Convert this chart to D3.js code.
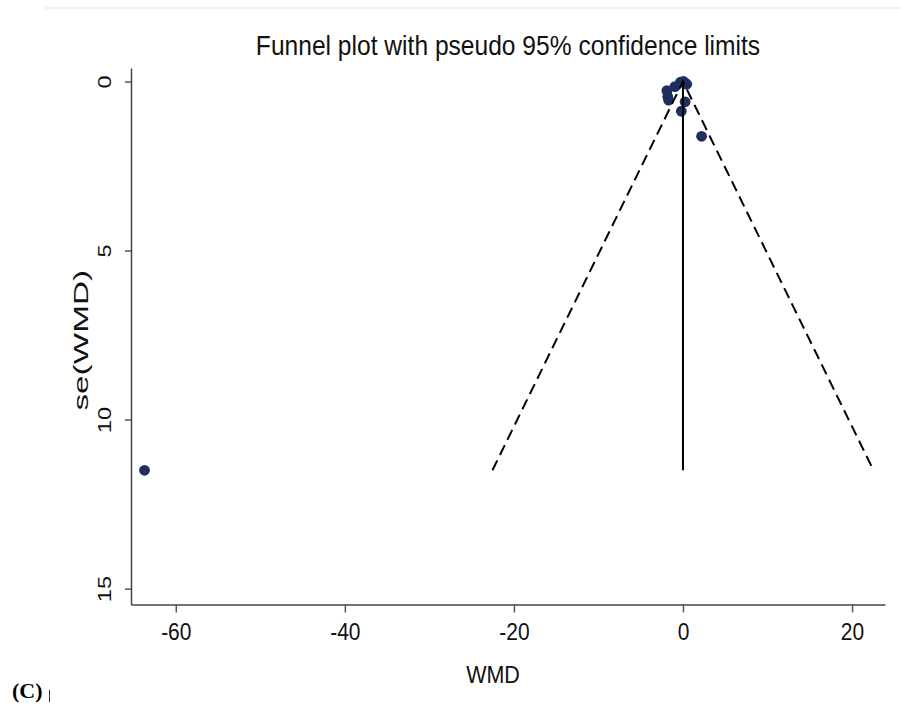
<!DOCTYPE html>
<html>
<head>
<meta charset="utf-8">
<script src="https://cdn.jsdelivr.net/npm/d3@7"></script>
<style>
  html, body { margin: 0; padding: 0; background: #fff; }
  svg { display: block; }
</style>
</head>
<body>
<svg id="chart" width="900" height="711"></svg>
<script>
// Study estimates
const wmd = [-63.7, 2.2, -0.2, 0.25, -0.3, 0.25, 0.45, -0.95, -1.9, -1.8, -1.7, 0.05];
const se  = [11.5, 1.62, 0.88, 0.60, 0.02, 0.04, 0.08, 0.15, 0.27, 0.45, 0.55, 0.0];
// Pooled estimate and funnel extent
const pooled = [0];
const seMax = [11.5];
const zCrit = [1.96];
const xTicks = [-60, -40, -20, 0, 20];
const yTicks = [0, 5, 10, 15];
const titleText = "Funnel plot with pseudo 95% confidence limits";
const xTitle = "WMD";
const yTitle = "se(WMD)";
const panelLabel = "(C)";

const svg = d3.select("#chart");
const font = "'Liberation Sans', Arial, sans-serif";
const fmt = d => String(d); // plain hyphen-minus

const x = d3.scaleLinear().domain([-65.3, 23.9]).range([131, 885]);
const y = d3.scaleLinear().domain([-0.4, 15.47]).range([68, 604.5]);
const x0 = x.range()[0], yB = y.range()[1];
const yMid = (y.range()[0] + y.range()[1]) / 2;

// faint top rule
svg.append("line").attr("x1", 45).attr("x2", 900).attr("y1", 8).attr("y2", 8)
  .attr("stroke", "#e4ebe9").attr("stroke-width", 1.5);

// title
svg.append("text").attr("transform", "translate(508,55) scale(1,1.1)").attr("text-anchor", "middle")
  .attr("font-family", font).attr("font-size", 24.6).attr("fill", "#111")
  .text(titleText);

// x axis
const xAxis = d3.axisBottom(x).tickValues(xTicks).tickFormat(fmt).tickSize(8).tickPadding(8).tickSizeOuter(0);
const gx = svg.append("g").attr("transform", `translate(0,${yB})`).call(xAxis);
gx.select(".domain").attr("stroke", "#444").attr("stroke-width", 1.5);
gx.selectAll(".tick line").attr("stroke", "#555").attr("stroke-width", 1.5);
gx.selectAll(".tick text").attr("font-family", font).attr("font-size", 21).attr("fill", "#111")
  .attr("y", null).attr("dy", null)
  .attr("transform", "translate(0,35) scale(1,1.13)");

// y axis
const yAxis = d3.axisLeft(y).tickValues(yTicks).tickFormat(fmt).tickSize(6).tickPadding(0).tickSizeOuter(0);
const gy = svg.append("g").attr("transform", `translate(${x0},0)`).call(yAxis);
gy.select(".domain").attr("stroke", "#444").attr("stroke-width", 1.5);
gy.selectAll(".tick line").attr("stroke", "#555").attr("stroke-width", 1.5);
gy.selectAll(".tick text")
  .attr("font-family", font).attr("font-size", 21).attr("fill", "#111")
  .attr("x", null).attr("dy", null)
  .attr("transform", "translate(-26,0) rotate(-90) scale(1.12,0.85)")
  .attr("text-anchor", "middle").attr("dominant-baseline", "central");

// axis titles
svg.append("text").attr("transform", "translate(493,683) scale(1,1.13)").attr("text-anchor", "middle")
  .attr("font-family", font).attr("font-size", 21.5).attr("fill", "#111").text(xTitle);
svg.append("text").attr("transform", `translate(88,${yMid + 4}) rotate(-90) scale(1.55,0.92)`)
  .attr("text-anchor", "middle").attr("font-family", font).attr("font-size", 21.5).attr("fill", "#111")
  .text(yTitle);

// points
svg.append("g").selectAll("circle").data(wmd.map((d, i) => [d, se[i]])).join("circle")
  .attr("cx", d => x(d[0])).attr("cy", d => y(d[1])).attr("r", 5.4)
  .attr("fill", "#1e2f5e");

// funnel limits
const th = pooled[0], sm = seMax[0], z = zCrit[0];
const line = d3.line().x(d => x(d[0])).y(d => y(d[1]));
svg.append("path").attr("d", line([[th - z * sm, sm], [th, 0], [th + z * sm, sm]]))
  .attr("fill", "none").attr("stroke", "#000").attr("stroke-width", 2).attr("stroke-dasharray", "11,6");
svg.append("path").attr("d", line([[th, 0], [th, sm]]))
  .attr("fill", "none").attr("stroke", "#000").attr("stroke-width", 2);

// panel label
svg.append("text").attr("x", 12).attr("y", 698)
  .attr("font-family", "'Liberation Serif', 'Times New Roman', serif").attr("font-weight", "bold")
  .attr("font-size", 22).attr("fill", "#000").text(panelLabel);
svg.append("line").attr("x1", 49.5).attr("x2", 49.5).attr("y1", 690).attr("y2", 702)
  .attr("stroke", "#333").attr("stroke-width", 1);
</script>
</body>
</html>
